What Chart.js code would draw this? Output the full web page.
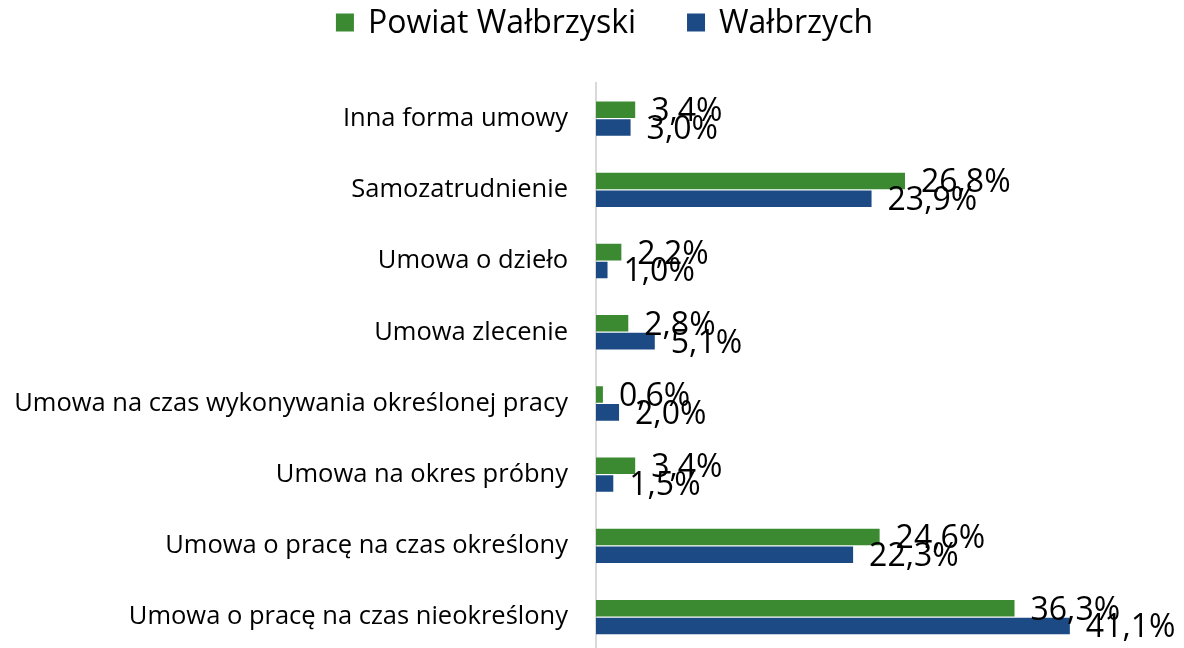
<!DOCTYPE html>
<html lang="pl">
<head>
<meta charset="utf-8">
<title>Forma umowy</title>
<script src="https://cdn.jsdelivr.net/npm/chart.js@4.4.1/dist/chart.umd.min.js"></script>
<style>
  html, body { margin: 0; padding: 0; background: #fff; overflow: hidden; }
  .wrap { position: relative; width: 1184px; height: 696px; }
</style>
</head>
<body>
<div class="wrap"><canvas id="chart"></canvas></div>
<script>
const categories = [
  'Inna forma umowy',
  'Samozatrudnienie',
  'Umowa o dzieło',
  'Umowa zlecenie',
  'Umowa na czas wykonywania określonej pracy',
  'Umowa na okres próbny',
  'Umowa o pracę na czas określony',
  'Umowa o pracę na czas nieokreślony'
];
const seriesNames = ['Powiat Wałbrzyski', 'Wałbrzych'];
const powiatValues = [3.4, 26.8, 2.2, 2.8, 0.6, 3.4, 24.6, 36.3];
const walbrzychValues = [3.0, 23.9, 1.0, 5.1, 2.0, 1.5, 22.3, 41.1];

const GREEN = '#3B8A32';
const BLUE = '#1C4A85';
const FONT = '"Open Sans", "DejaVu Sans", sans-serif';

const fmt = (v) => v.toFixed(1).replace('.', ',') + '%';

// value labels just past the end of each bar
const valueLabels = {
  id: 'valueLabels',
  afterDatasetsDraw(chart) {
    const ctx = chart.ctx;
    ctx.save();
    ctx.font = '32px ' + FONT;
    ctx.fillStyle = '#000';
    ctx.textAlign = 'left';
    ctx.textBaseline = 'alphabetic';
    chart.data.datasets.forEach((ds, i) => {
      chart.getDatasetMeta(i).data.forEach((bar, j) => {
        ctx.fillText(fmt(ds.data[j]), bar.x + 16, bar.y + 11.5);
      });
    });
    ctx.restore();
  }
};

// legend row across the top
const topLegend = {
  id: 'topLegend',
  afterDraw(chart) {
    const ctx = chart.ctx;
    ctx.save();
    ctx.font = '32px ' + FONT;
    ctx.textBaseline = 'middle';
    const box = 18, gap = 14, itemGap = 51;
    const items = chart.data.datasets.map((ds) => ({
      text: ds.label, color: ds.backgroundColor, w: ctx.measureText(ds.label).width
    }));
    const total = items.reduce((s, it) => s + box + gap + it.w, 0) + itemGap * (items.length - 1);
    let x = chart.width / 2 + 12.5 - total / 2;
    const cy = 22.5;
    items.forEach((it) => {
      ctx.fillStyle = it.color;
      ctx.fillRect(x, cy - box / 2, box, box);
      ctx.fillStyle = '#000';
      ctx.fillText(it.text, x + box + gap, cy + 1);
      x += box + gap + it.w + itemGap;
    });
    ctx.restore();
  }
};

new Chart(document.getElementById('chart'), {
  type: 'bar',
  data: {
    labels: categories,
    datasets: [
      { label: seriesNames[0], data: powiatValues, backgroundColor: GREEN },
      { label: seriesNames[1], data: walbrzychValues, backgroundColor: BLUE }
    ]
  },
  options: {
    indexAxis: 'y',
    responsive: true,
    maintainAspectRatio: false,
    animation: false,
    layout: { padding: { top: 83, bottom: 6, left: 0, right: 0 } },
    datasets: { bar: { categoryPercentage: 0.5, barPercentage: 0.93 } },
    plugins: {
      legend: { display: false },
      tooltip: { enabled: false }
    },
    scales: {
      x: { display: false, min: 0, max: 51 },
      y: {
        afterFit(scale) { scale.width = 596; },
        grid: { display: false, drawTicks: false },
        border: { display: true, color: '#D9D9D9', width: 2 },
        ticks: {
          color: '#000',
          padding: 28,
          font: { family: FONT, size: 25.5 }
        }
      }
    }
  },
  plugins: [valueLabels, topLegend]
});
</script>
</body>
</html>
